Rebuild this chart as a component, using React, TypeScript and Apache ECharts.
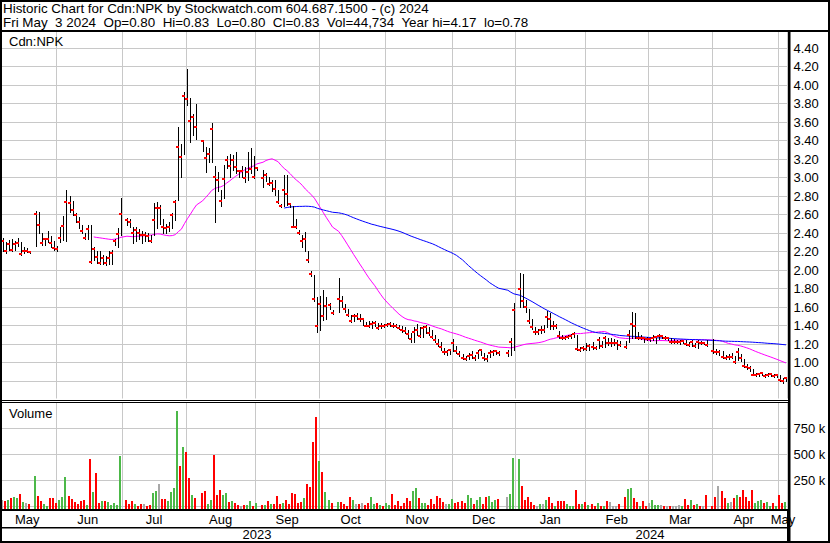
import React, { useEffect, useRef } from "react";
import * as echarts from "echarts";

const FONT = '"Liberation Sans", Arial, sans-serif';

// Trading-slot axis: every weekday from the first slot (holidays stay as empty slots)
const START_DATE = "2023-05-08";
const SLOT_COUNT = 260;
const MONTH_NAMES = ["Jan", "Feb", "Mar", "Apr", "May", "Jun", "Jul", "Aug", "Sep", "Oct", "Nov", "Dec"];

const HIGH = [
  2.35, 2.30, 2.32, 2.33, 2.31, 2.35, 2.30, 2.25, 2.24, 2.21,
  null, 2.64, 2.63, 2.40, 2.35, 2.42, 2.37, 2.31, 2.26, 2.47,
  2.58, 2.86, 2.80, 2.75, 2.62, 2.57, 2.49, 2.40, 2.49, 2.49,
  2.25, 2.21, 2.20, 2.16, 2.15, 2.20, 2.22, 2.34, 2.45, 2.78,
  null, 2.56, 2.55, 2.46, 2.47, 2.44, 2.42, 2.41, 2.40, 2.38,
  2.72, 2.74, 2.70, 2.55, 2.50, 2.52, 2.62, 2.76, 3.55, 3.36,
  3.92, 4.17, 3.86, 3.69, 3.79, null, 3.41, 3.33, 3.32, 3.59,
  3.12, 3.06, 2.86, 3.13, 3.23, 3.25, 3.24, 3.28, 3.08, 3.12,
  3.11, 3.28, 3.32, 3.23, 3.11, null, 3.08, 3.05, 3.01, 2.97,
  2.97, 2.87, 2.71, 3.03, 3.03, 2.72, 2.69, 2.55, 2.43, 2.38,
  2.41, 2.20, 1.99, 1.95, 1.71, 1.72, 1.78, 1.71, 1.64, 1.57,
  null, 1.91, 1.72, 1.63, 1.58, 1.51, 1.52, 1.53, 1.52, 1.47,
  1.44, 1.45, 1.45, 1.45, 1.43, 1.43, 1.42, 1.43, 1.44, 1.43,
  1.42, 1.41, 1.40, 1.38, 1.35, 1.32, 1.38, 1.42, 1.38, 1.40,
  1.41, 1.38, 1.35, 1.30, 1.25, 1.22, 1.16, 1.13, 1.15, 1.25,
  1.18, 1.12, 1.09, 1.07, 1.10, 1.12, 1.08, 1.13, 1.15, 1.10,
  1.08, 1.13, 1.13, 1.14, 1.12, null, null, 1.14, 1.26, 1.64,
  null, 1.97, 1.96, 1.68, 1.58, 1.47, 1.38, 1.36, 1.40, 1.41,
  1.56, 1.53, 1.45, 1.42, 1.34, 1.30, 1.29, 1.30, 1.31, 1.33,
  1.30, 1.17, 1.18, 1.21, 1.20, 1.22, 1.18, 1.28, 1.23, 1.29,
  1.27, 1.26, 1.25, 1.24, 1.23, null, 1.23, 1.35, 1.55, 1.53,
  1.33, 1.30, 1.28, 1.28, 1.27, 1.30, 1.29, 1.31, 1.30, 1.29,
  1.28, 1.26, 1.25, 1.24, 1.24, 1.24, 1.24, 1.22, 1.24, 1.21,
  1.24, 1.23, 1.22, 1.24, null, 1.25, 1.15, 1.14, 1.12, 1.08,
  1.09, 1.10, 1.07, 1.16, 1.09, 1.04, 0.98, 0.96, 0.93, 0.89,
  0.89, 0.90, 0.88, 0.89, 0.89, 0.88, 0.87, 0.86, 0.83, 0.83,
];

const LOW = [
  2.20, 2.18, 2.22, 2.20, 2.22, 2.26, 2.16, 2.18, 2.19, 2.18,
  null, 2.26, 2.40, 2.27, 2.27, 2.30, 2.25, 2.22, 2.21, 2.30,
  2.32, 2.31, 2.63, 2.59, 2.52, 2.45, 2.40, 2.33, 2.33, 2.08,
  2.11, 2.08, 2.07, 2.06, 2.05, 2.06, 2.07, 2.27, 2.25, 2.38,
  null, 2.49, 2.47, 2.29, 2.31, 2.33, 2.29, 2.31, 2.31, 2.30,
  2.38, 2.45, 2.50, 2.40, 2.40, 2.42, 2.45, 2.54, 2.76, 3.00,
  3.25, 3.78, 3.38, 3.46, 3.42, null, 3.29, 3.06, 3.17, 3.17,
  2.52, 2.85, 2.69, 2.78, 3.10, 3.00, 3.08, 3.05, 3.01, 3.00,
  2.95, 2.97, 3.05, 2.99, 3.08, null, 2.90, 2.96, 2.92, 2.85,
  2.81, 2.72, 2.68, 2.69, 2.70, 2.68, 2.47, 2.45, 2.39, 2.25,
  2.20, 2.09, 1.94, 1.66, 1.33, 1.35, 1.46, 1.47, 1.58, 1.52,
  null, 1.55, 1.60, 1.55, 1.50, 1.44, 1.45, 1.47, 1.45, 1.41,
  1.39, 1.38, 1.37, 1.40, 1.36, 1.37, 1.38, 1.39, 1.40, 1.38,
  1.38, 1.36, 1.33, 1.32, 1.26, 1.22, 1.22, 1.30, 1.28, 1.28,
  1.32, 1.30, 1.26, 1.22, 1.18, 1.14, 1.09, 1.08, 1.09, 1.12,
  1.10, 1.07, 1.04, 1.03, 1.04, 1.05, 1.03, 1.05, 1.08, 1.03,
  1.02, 1.06, 1.08, 1.09, 1.08, null, null, 1.07, 1.08, 1.13,
  null, 1.60, 1.60, 1.55, 1.43, 1.36, 1.31, 1.31, 1.32, 1.33,
  1.38, 1.36, 1.36, 1.37, 1.27, 1.25, 1.25, 1.26, 1.27, 1.28,
  1.13, 1.12, 1.13, 1.13, 1.14, 1.15, 1.15, 1.16, 1.17, 1.17,
  1.19, 1.18, 1.19, 1.15, 1.18, null, 1.16, 1.22, 1.26, 1.26,
  1.25, 1.25, 1.22, 1.24, 1.23, 1.24, 1.21, 1.25, 1.26, 1.25,
  1.24, 1.21, 1.21, 1.21, 1.20, 1.21, 1.19, 1.18, 1.18, 1.17,
  1.16, 1.20, 1.20, 1.18, null, 1.10, 1.09, 1.08, 1.05, 1.04,
  1.04, 1.05, 1.00, 1.03, 1.02, 0.95, 0.93, 0.91, 0.86, 0.85,
  0.85, 0.86, 0.84, 0.85, 0.85, 0.84, 0.84, 0.80, 0.78, 0.80,
];

const CLOSE = [
  2.31, 2.21, 2.28, 2.22, 2.28, 2.29, 2.17, 2.20, 2.20, 2.19,
  null, 2.60, 2.49, 2.29, 2.33, 2.34, 2.29, 2.24, 2.23, 2.35,
  2.48, 2.73, 2.72, 2.65, 2.59, 2.52, 2.42, 2.35, 2.44, 2.09,
  2.23, 2.14, 2.08, 2.13, 2.08, 2.13, 2.18, 2.31, 2.39, 2.60,
  null, 2.54, 2.52, 2.40, 2.43, 2.40, 2.38, 2.38, 2.37, 2.31,
  2.54, 2.67, 2.67, 2.47, 2.45, 2.47, 2.59, 2.73, 3.33, 3.22,
  3.88, 3.85, 3.61, 3.65, 3.55, null, 3.39, 3.21, 3.25, 3.52,
  3.01, 2.97, 2.75, 2.98, 3.19, 3.12, 3.19, 3.11, 3.07, 3.07,
  2.99, 3.06, 3.09, 3.01, 3.10, null, 2.99, 3.03, 2.93, 2.94,
  2.88, 2.73, 2.69, 2.87, 2.82, 2.71, 2.47, 2.46, 2.40, 2.31,
  2.33, 2.11, 1.96, 1.69, 1.39, 1.63, 1.50, 1.61, 1.62, 1.54,
  null, 1.69, 1.66, 1.58, 1.51, 1.45, 1.50, 1.50, 1.47, 1.47,
  1.40, 1.39, 1.42, 1.43, 1.37, 1.40, 1.39, 1.41, 1.42, 1.40,
  1.39, 1.37, 1.35, 1.34, 1.31, 1.25, 1.33, 1.35, 1.29, 1.37,
  1.38, 1.32, 1.28, 1.24, 1.20, 1.17, 1.11, 1.11, 1.13, 1.21,
  1.12, 1.09, 1.05, 1.04, 1.07, 1.08, 1.05, 1.10, 1.13, 1.05,
  1.04, 1.10, 1.11, 1.12, 1.10, null, null, 1.10, 1.22, 1.57,
  null, 1.79, 1.66, 1.60, 1.45, 1.38, 1.33, 1.33, 1.35, 1.35,
  1.49, 1.47, 1.39, 1.40, 1.29, 1.27, 1.26, 1.28, 1.29, 1.31,
  1.15, 1.13, 1.16, 1.15, 1.18, 1.17, 1.16, 1.24, 1.18, 1.27,
  1.21, 1.21, 1.21, 1.21, 1.19, null, 1.17, 1.30, 1.42, 1.39,
  1.26, 1.27, 1.26, 1.25, 1.25, 1.27, 1.28, 1.29, 1.29, 1.26,
  1.26, 1.22, 1.22, 1.22, 1.22, 1.23, 1.20, 1.19, 1.22, 1.18,
  1.22, 1.21, 1.21, 1.19, null, 1.12, 1.11, 1.11, 1.06, 1.05,
  1.06, 1.06, 1.01, 1.11, 1.05, 0.96, 0.95, 0.94, 0.86, 0.87,
  0.88, 0.89, 0.85, 0.87, 0.88, 0.85, 0.86, 0.81, 0.80, 0.83,
];

// thousands of shares
const VOLUME_K = [
  61, 51, 61, 80, 90, 80, 119, 42, 32, 22,
  null, 292, 99, 51, 22, 3, 80, 80, 32, 61,
  90, 282, 99, 71, 42, 22, 51, 61, 13, 455,
  138, 320, 32, 51, 51, 42, 13, 32, 13, 484,
  null, 61, 22, 51, 22, 3, 22, 22, 3, 13,
  128, 147, 215, 71, 71, 51, 138, 176, 916, 387,
  570, 522, 272, 109, 80, null, 128, 147, 22, 61,
  493, 109, 157, 109, 128, 42, 51, 32, 13, 3,
  13, 13, 51, 3, 32, null, 13, 13, 51, 22,
  22, 99, 22, 32, 61, 22, 128, 119, 32, 42,
  80, 215, 186, 621, 862, 435, 333, 140, 61, 32,
  null, 42, 42, 22, 3, 90, 61, 22, 22, 32,
  13, 32, 90, 22, 32, 13, 3, 32, 13, 119,
  13, 51, 3, 32, 80, 51, 147, 176, 80, 32,
  32, 13, 71, 22, 99, 80, 42, 22, 22, 71,
  32, 42, 51, 32, 109, 80, 22, 61, 90, 22,
  90, 99, 42, 61, 71, null, null, 90, 119, 462,
  null, 452, 195, 61, 90, 42, 13, 3, 22, 22,
  61, 90, 32, 3, 51, 51, 51, 22, 3, 3,
  157, 22, 22, 42, 13, 22, 3, 32, 3, 3,
  51, 42, 3, 3, 22, null, 90, 167, 176, 80,
  42, 3, 51, 3, 32, 61, 13, 13, 13, 3,
  3, 3, 3, 3, 13, 3, 71, 13, 61, 13,
  22, 3, 3, 109, null, 3, 90, 195, 147, 80,
  32, 42, 80, 109, 90, 157, 90, 51, 157, 32,
  51, 61, 32, 42, 3, 32, 3, 109, 32, 44.734,
];

const MA_SHORT = 30;
const MA_LONG = 90;

const PRICE_MIN = 0.6;
const PRICE_MAX = 4.6;
const PRICE_STEP = 0.2;
const VOL_MAX = 1000000;
const VOL_STEP = 250000;

const HEADER_LINE_1 = "Historic Chart for Cdn:NPK by Stockwatch.com 604.687.1500 - (c) 2024";
const HEADER_LINE_2 =
  "Fri May\u00a0 3 2024\u00a0 Op=0.80\u00a0 Hi=0.83\u00a0 Lo=0.80\u00a0 Cl=0.83\u00a0 Vol=44,734\u00a0 Year hi=4.17\u00a0 lo=0.78";
const PRICE_TITLE = "Cdn:NPK";
const VOLUME_TITLE = "Volume";

const GREEN = "#4cb848";
const RED = "#ff0000";
const GRAY = "#a8a8a8";
const GRID_COLOR = "#c8c8c8";

function buildSlots(start: string, n: number): Date[] {
  const out: Date[] = [];
  const d = new Date(start + "T00:00:00Z");
  while (out.length < n) {
    const wd = d.getUTCDay();
    if (wd !== 0 && wd !== 6) out.push(new Date(d.getTime()));
    d.setUTCDate(d.getUTCDate() + 1);
  }
  return out;
}

function sma(values: (number | null)[], n: number): (number | null)[] {
  const out: (number | null)[] = [];
  const win: number[] = [];
  let sum = 0;
  for (const v of values) {
    if (v == null) {
      out.push(null);
      continue;
    }
    win.push(v);
    sum += v;
    if (win.length > n) sum -= win.shift() as number;
    out.push(win.length === n ? sum / n : null);
  }
  return out;
}

export default function App() {
  const ref = useRef<HTMLDivElement>(null);

  useEffect(() => {
    if (!ref.current) return;
    const chart = echarts.init(ref.current, undefined, { renderer: "svg" });

    const slots = buildSlots(START_DATE, SLOT_COUNT);
    const cats = slots.map((d) => d.toISOString().slice(0, 10));

    // month / year grouping
    const monthStart = new Set<number>();
    const monthLabel = new Map<number, string>();
    const yearStart = new Set<number>();
    const yearLabel = new Map<number, string>();
    let mFirst = 0;
    let yFirst = 0;
    for (let i = 1; i <= slots.length; i++) {
      const endMonth =
        i === slots.length ||
        slots[i].getUTCMonth() !== slots[i - 1].getUTCMonth();
      if (endMonth) {
        const mid = Math.floor((mFirst + i - 1) / 2);
        monthLabel.set(mid, MONTH_NAMES[slots[mFirst].getUTCMonth()]);
        if (i < slots.length) monthStart.add(i);
        mFirst = i;
      }
      const endYear =
        i === slots.length ||
        slots[i].getUTCFullYear() !== slots[i - 1].getUTCFullYear();
      if (endYear) {
        const mid = Math.floor((yFirst + i - 1) / 2);
        yearLabel.set(mid, String(slots[yFirst].getUTCFullYear()));
        if (i < slots.length) yearStart.add(i);
        yFirst = i;
      }
    }

    const priceData: number[][] = [];
    const volData: number[][] = [];
    let prev: number | null = null;
    for (let i = 0; i < SLOT_COUNT; i++) {
      const c = CLOSE[i];
      if (c == null) continue;
      priceData.push([i, HIGH[i] as number, LOW[i] as number, c]);
      const dir = prev == null ? 0 : c > prev ? 1 : c < prev ? -1 : 0;
      volData.push([i, (VOLUME_K[i] as number) * 1000, dir]);
      prev = c;
    }

    const maShort = sma(CLOSE, MA_SHORT);
    const maLong = sma(CLOSE, MA_LONG);

    const hiddenAxis = {
      axisLine: { show: false },
      axisTick: { show: false },
      axisLabel: { show: false },
    };
    const labelStyle = { color: "#000", fontSize: 13, fontFamily: FONT };

    const gridBox = { left: 1.5, width: 786 };

    const option: any = {
      animation: false,
      backgroundColor: "#fff",
      grid: [
        { ...gridBox, top: 29.5, height: 370 },
        { ...gridBox, top: 402.3, height: 104 },
        { ...gridBox, top: 402, height: 107.5 },
        { ...gridBox, top: 509, height: 32 },
      ],
      xAxis: [
        {
          gridIndex: 0,
          type: "category",
          data: cats,
          boundaryGap: true,
          ...hiddenAxis,
          splitLine: {
            show: true,
            interval: (i: number) => monthStart.has(i),
            lineStyle: { color: GRID_COLOR, width: 1 },
          },
        },
        {
          gridIndex: 1,
          type: "category",
          data: cats,
          boundaryGap: true,
          ...hiddenAxis,
          splitLine: { show: false },
        },
        {
          gridIndex: 2,
          type: "category",
          data: cats,
          boundaryGap: true,
          position: "bottom",
          axisLine: { show: false },
          axisTick: { show: false },
          axisLabel: {
            ...labelStyle,
            margin: 3,
            interval: (i: number) => monthLabel.has(i),
            formatter: (_v: string, i: number) => monthLabel.get(i) || "",
          },
          splitLine: {
            show: true,
            interval: (i: number) => monthStart.has(i),
            lineStyle: { color: GRID_COLOR, width: 1 },
          },
        },
        {
          gridIndex: 2,
          type: "category",
          data: cats,
          boundaryGap: true,
          position: "bottom",
          offset: 15,
          axisLine: { show: false },
          axisTick: { show: false },
          axisLabel: {
            ...labelStyle,
            margin: 3,
            interval: (i: number) => yearLabel.has(i),
            formatter: (_v: string, i: number) => yearLabel.get(i) || "",
          },
          splitLine: { show: false },
        },
        {
          gridIndex: 3,
          type: "category",
          data: cats,
          boundaryGap: true,
          ...hiddenAxis,
          splitLine: {
            show: true,
            interval: (i: number) => yearStart.has(i),
            lineStyle: { color: "#000", width: 1 },
          },
        },
      ],
      yAxis: [
        {
          gridIndex: 0,
          type: "value",
          position: "right",
          min: PRICE_MIN,
          max: PRICE_MAX,
          interval: PRICE_STEP,
          axisLine: { show: false },
          axisTick: { show: false },
          axisLabel: {
            ...labelStyle,
            margin: 6,
            formatter: (v: number) =>
              v < PRICE_MIN + 0.1 || v > PRICE_MAX - 0.1 ? "" : v.toFixed(2),
          },
          splitLine: { show: true, lineStyle: { color: GRID_COLOR, width: 1 } },
        },
        {
          gridIndex: 1,
          type: "value",
          position: "right",
          min: 0,
          max: VOL_MAX,
          interval: VOL_STEP,
          axisLine: { show: false },
          axisTick: { show: false },
          axisLabel: {
            ...labelStyle,
            margin: 6,
            formatter: (v: number) =>
              v <= 0 || v >= VOL_MAX ? "" : Math.round(v / 1000) + " k",
          },
          splitLine: { show: true, lineStyle: { color: GRID_COLOR, width: 1 } },
        },
        { gridIndex: 2, type: "value", show: false },
        { gridIndex: 3, type: "value", show: false },
      ],
      series: [
        {
          name: "MA30",
          type: "line",
          xAxisIndex: 0,
          yAxisIndex: 0,
          data: maShort,
          showSymbol: false,
          symbol: "none",
          connectNulls: true,
          lineStyle: { color: "#ff00ff", width: 1 },
          z: 3,
        },
        {
          name: "MA90",
          type: "line",
          xAxisIndex: 0,
          yAxisIndex: 0,
          data: maLong,
          showSymbol: false,
          symbol: "none",
          connectNulls: true,
          lineStyle: { color: "#0000ff", width: 1 },
          z: 3,
        },
        {
          name: "Price",
          type: "custom",
          xAxisIndex: 0,
          yAxisIndex: 0,
          data: priceData,
          encode: { x: 0, y: [1, 2, 3] },
          z: 4,
          renderItem: (_params: any, api: any) => {
            const i = api.value(0);
            const pH = api.coord([i, api.value(1)]);
            const pL = api.coord([i, api.value(2)]);
            const pC = api.coord([i, api.value(3)]);
            const x = Math.round(pH[0]);
            const yTop = Math.round(pH[1]);
            const yBot = Math.round(pL[1]);
            const yC = Math.round(pC[1]);
            return {
              type: "group",
              children: [
                {
                  type: "rect",
                  shape: { x, y: yTop, width: 1, height: Math.max(1, yBot - yTop + 1) },
                  style: { fill: "#000" },
                },
                {
                  type: "rect",
                  shape: { x: x - 2, y: yC - 1, width: 3, height: 2 },
                  style: { fill: RED },
                },
              ],
            };
          },
        },
        {
          name: "Volume",
          type: "custom",
          xAxisIndex: 1,
          yAxisIndex: 1,
          data: volData,
          encode: { x: 0, y: 1 },
          renderItem: (params: any, api: any) => {
            const i = api.value(0);
            const dir = api.value(2);
            const p = api.coord([i, api.value(1)]);
            const base = params.coordSys.y + params.coordSys.height + 3;
            const y = Math.round(p[1]);
            return {
              type: "rect",
              shape: { x: Math.round(p[0]) - 2, y, width: 2, height: Math.max(1, base - y) },
              style: { fill: dir > 0 ? GREEN : dir < 0 ? RED : GRAY },
            };
          },
        },
      ],
      graphic: [
        { type: "rect", z: 100, shape: { x: 0, y: 0, width: 830, height: 30 }, style: { fill: "#fff" } },
        { type: "rect", z: 100, shape: { x: 0, y: 398.5, width: 789, height: 4 }, style: { fill: "#fff" } },
        {
          type: "text", z: 101, x: 3, y: 8.5,
          style: { text: HEADER_LINE_1, fill: "#000", font: `13.4px ${FONT}`, verticalAlign: "middle", align: "left" },
        },
        {
          type: "text", z: 101, x: 3, y: 22.5,
          style: { text: HEADER_LINE_2, fill: "#000", font: `13.4px ${FONT}`, verticalAlign: "middle", align: "left" },
        },
        {
          type: "text", z: 101, x: 9, y: 41.5,
          style: { text: PRICE_TITLE, fill: "#000", font: `13px ${FONT}`, verticalAlign: "middle", align: "left" },
        },
        {
          type: "text", z: 101, x: 9, y: 413,
          style: { text: VOLUME_TITLE, fill: "#000", font: `13px ${FONT}`, verticalAlign: "middle", align: "left" },
        },
        // frame
        { type: "rect", z: 102, shape: { x: 0, y: 30, width: 830, height: 2 }, style: { fill: "#000" } },
        { type: "rect", z: 102, shape: { x: 0, y: 400, width: 789, height: 1 }, style: { fill: "#000" } },
        { type: "rect", z: 102, shape: { x: 0, y: 402, width: 789, height: 1 }, style: { fill: "#000" } },
        { type: "rect", z: 102, shape: { x: 0, y: 509, width: 789, height: 2 }, style: { fill: "#000" } },
        { type: "rect", z: 102, shape: { x: 0, y: 527, width: 789, height: 1.5 }, style: { fill: "#000" } },
        { type: "rect", z: 102, shape: { x: 788, y: 30, width: 2.5, height: 513 }, style: { fill: "#000" } },
        { type: "rect", z: 102, shape: { x: 0, y: 0, width: 830, height: 2 }, style: { fill: "#000" } },
        { type: "rect", z: 102, shape: { x: 0, y: 541, width: 830, height: 2 }, style: { fill: "#000" } },
        { type: "rect", z: 102, shape: { x: 0, y: 0, width: 2, height: 543 }, style: { fill: "#000" } },
        { type: "rect", z: 102, shape: { x: 828, y: 0, width: 2, height: 543 }, style: { fill: "#000" } },
      ],
    };

    chart.setOption(option);
    return () => chart.dispose();
  }, []);

  return (
    <div
      ref={ref}
      style={{ position: "absolute", left: 0, top: 0, width: 830, height: 543 }}
    />
  );
}
